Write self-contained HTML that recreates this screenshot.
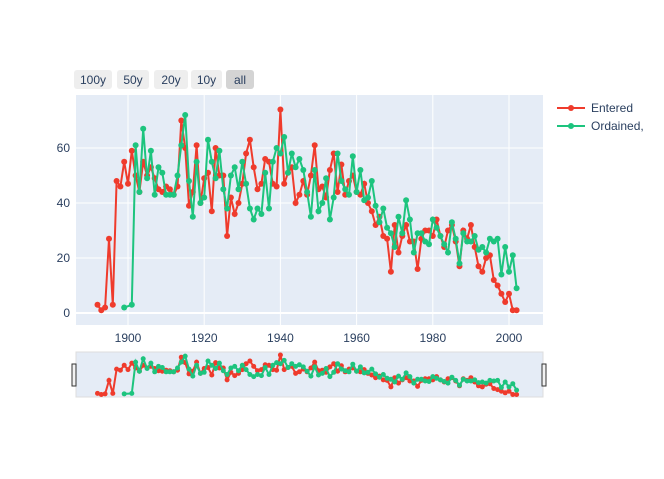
<!DOCTYPE html><html><head><style>
body{margin:0;background:#fff;font-family:"Liberation Sans",sans-serif}
svg text{font-family:"Liberation Sans",sans-serif;fill:#2a3f5f;font-size:12px}
</style></head><body>
<svg id="s" width="664" height="474" xmlns="http://www.w3.org/2000/svg"></svg>
<script>
const E={1892:3,1893:1,1894:2,1895:27,1896:3,1897:48,1898:46,1899:55,1900:47,1901:59,1902:50,1903:44,1904:55,1905:50,1906:53,1907:49,1908:45,1909:44,1910:46,1911:45,1912:43,1913:46,1914:70,1915:60,1916:39,1917:44,1918:61,1919:40,1920:49,1921:51,1922:37,1923:60,1924:50,1925:50,1926:28,1927:42,1928:36,1929:40,1930:47,1931:58,1932:63,1933:53,1934:45,1935:47,1936:56,1937:55,1938:47,1939:46,1940:74,1941:47,1942:51,1943:53,1944:40,1945:43,1946:48,1947:43,1948:50,1949:61,1950:45,1951:46,1952:42,1953:52,1954:58,1955:44,1956:54,1957:43,1958:48,1959:50,1960:44,1961:43,1962:47,1963:40,1964:37,1965:32,1966:35,1967:28,1968:27,1969:15,1970:32,1971:22,1972:28,1973:32,1974:26,1975:26,1976:16,1977:27,1978:30,1979:30,1980:28,1981:34,1982:28,1983:24,1984:30,1985:32,1986:26,1987:17,1988:30,1989:27,1990:32,1991:24,1992:17,1993:15,1994:20,1995:21,1996:12,1997:10,1998:7,1999:4,2000:7,2001:1,2002:1};
const O={1899:2,1901:3,1902:61,1903:44,1904:67,1905:49,1906:59,1907:43,1908:53,1909:51,1910:43,1911:43,1912:43,1913:50,1914:61,1915:72,1916:48,1917:35,1918:55,1919:40,1920:42,1921:63,1922:55,1923:49,1924:59,1925:45,1926:38,1927:50,1928:53,1929:45,1930:55,1931:47,1932:38,1933:34,1934:38,1935:36,1936:51,1937:38,1938:55,1939:60,1940:58,1941:64,1942:51,1943:58,1944:53,1945:56,1946:52,1947:44,1948:35,1949:52,1950:37,1951:40,1952:49,1953:34,1954:42,1955:58,1956:48,1957:45,1958:43,1959:57,1960:44,1961:52,1962:41,1963:42,1964:48,1965:39,1966:33,1967:38,1968:31,1969:29,1970:24,1971:35,1972:29,1973:41,1974:34,1975:22,1976:29,1977:29,1978:26,1979:25,1980:34,1981:31,1982:28,1983:25,1984:22,1985:33,1986:27,1987:18,1988:29,1989:26,1990:26,1991:28,1992:23,1993:24,1994:22,1995:27,1996:26,1997:27,1998:14,1999:24,2000:15,2001:21,2002:9};
const X=y=>128+(y-1900)*3.81, Y=v=>313-v*2.75, YS=v=>395-v*0.54;
let h='<rect x="76" y="95" width="467" height="230" fill="#e5ecf6"/>';
[0,20,40,60].forEach(v=>{h+=`<line x1="76" x2="543" y1="${Y(v)}" y2="${Y(v)}" stroke="#fff" stroke-width="${v==0?2:1}"/><text x="70" y="${Y(v)+4}" text-anchor="end">${v}</text>`});
[1900,1920,1940,1960,1980,2000].forEach(y=>{h+=`<line x1="${X(y)}" x2="${X(y)}" y1="95" y2="325" stroke="#fff"/><text x="${X(y)}" y="342" text-anchor="middle">${y}</text>`});
h+='<rect x="76" y="352" width="467" height="45" fill="#e5ecf6" stroke="#ddd"/>';
function ser(d,c,fy,r,w){let k=Object.keys(d).map(Number),p=k.map(y=>X(y).toFixed(1)+','+fy(d[y]).toFixed(1)).join(' ');let s=`<polyline points="${p}" fill="none" stroke="${c}" stroke-width="${w}"/>`;k.forEach(y=>s+=`<circle cx="${X(y).toFixed(1)}" cy="${fy(d[y]).toFixed(1)}" r="${r}" fill="${c}"/>`);return s}
h+=ser(E,'#ef3b2c',Y,3,2)+ser(O,'#1dc47e',Y,3,2)+ser(E,'#ef3b2c',YS,2.5,2)+ser(O,'#1dc47e',YS,2.5,2);
h+='<rect x="72" y="364" width="4" height="22" fill="#f2f2f2" stroke="#333" stroke-width="1"/><rect x="542" y="364" width="4" height="22" fill="#f2f2f2" stroke="#333" stroke-width="1"/>';
[['100y',74,38],['50y',117,32],['20y',154,34],['10y',191,31],['all',226,28]].forEach(([t,x,w],i)=>{h+=`<rect x="${x}" y="70" width="${w}" height="19" rx="3" fill="${i==4?'#d4d4d4':'#eeeeee'}"/><text x="${x+w/2}" y="84" text-anchor="middle">${t}</text>`});
h+='<line x1="557" x2="585" y1="108" y2="108" stroke="#ef3b2c" stroke-width="2"/><circle cx="571" cy="108" r="3" fill="#ef3b2c"/><text x="591" y="112">Entered</text>';
h+='<line x1="557" x2="585" y1="126" y2="126" stroke="#1dc47e" stroke-width="2"/><circle cx="571" cy="126" r="3" fill="#1dc47e"/><text x="591" y="130">Ordained,</text>';
document.getElementById('s').innerHTML=h;
</script></body></html>
